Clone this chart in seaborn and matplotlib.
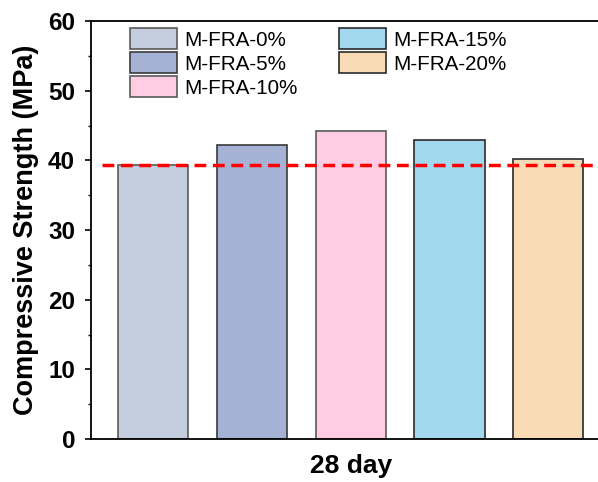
import pandas as pd
import numpy as np
import matplotlib
matplotlib.use("Agg")
import matplotlib.pyplot as plt
import seaborn as sns
from matplotlib.ticker import MultipleLocator

groups = ["M-FRA-0%", "M-FRA-5%", "M-FRA-10%", "M-FRA-15%", "M-FRA-20%"]
strength = [39.3, 42.2, 44.2, 42.9, 40.2]
age = ["28 day"] * 5

colors = ["#C5CEDF", "#A5B2D5", "#FECCE3", "#A3D9EE", "#F9DBB6"]
edges = ["#5a5a5a", "#3a3a3a", "#5a5a5a", "#2a2a2a", "#2a2a2a"]

df = pd.DataFrame({"Age": age, "Group": groups, "Strength": strength})

sns.set_style("ticks")
plt.rcParams["font.family"] = ["Liberation Sans", "DejaVu Sans"]
plt.rcParams["text.color"] = "black"
plt.rcParams["axes.labelcolor"] = "black"
plt.rcParams["xtick.color"] = "black"
plt.rcParams["ytick.color"] = "black"

fig = plt.figure(figsize=(5.98, 4.82), dpi=100)
ax = fig.add_axes([0.1517, 0.0892, 0.8788, 0.8672])

sns.barplot(data=df, x="Age", y="Strength", hue="Group", hue_order=groups,
            palette=colors, saturation=1, width=0.8, gap=0.288, ax=ax,
            legend=True, linewidth=1.2, edgecolor="#444444")

# per bar edge colours
for patch, ec in zip(ax.patches[:5], edges):
    patch.set_edgecolor(ec)

# reference line at the 0% value
ax.hlines(strength[0], -0.403, 0.43, colors="#FF0000", linewidth=2.5,
          linestyles=(0, (3.4, 1.9)), zorder=5)

ax.set_xlim(-0.421, 0.43)
ax.set_ylim(0, 60)
ax.yaxis.set_major_locator(MultipleLocator(10))
ax.yaxis.set_minor_locator(MultipleLocator(5))

for s in ax.spines.values():
    s.set_linewidth(1.3)
    s.set_color("black")

ax.tick_params(axis="y", which="major", length=4.3, width=1.2, pad=7,
               labelsize=17.5, direction="out", color="black")
ax.tick_params(axis="y", which="minor", length=2.3, width=1.0,
               direction="out", color="black")
ax.tick_params(axis="x", length=0, pad=11, labelsize=19)
for lab in ax.get_yticklabels() + ax.get_xticklabels():
    lab.set_fontweight("bold")

ax.set_xlabel("")
ax.set_ylabel("Compressive Strength (MPa)", fontsize=19.5, fontweight="bold")
ax.yaxis.set_label_coords(-0.098, 0.5)

handles, labels = ax.get_legend_handles_labels()
for h, ec in zip(handles, edges):
    h.set_edgecolor(ec)
ax.legend(handles, labels, ncol=2, frameon=False, loc="upper left",
          bbox_to_anchor=(39.3 / 525.5, 1 - 7.3 / 418), borderaxespad=0,
          borderpad=0, fontsize=14.9, handlelength=2.26, handleheight=1.16,
          handletextpad=0.37, labelspacing=0.13, columnspacing=2.0)

fig.savefig("out.png", dpi=100)
